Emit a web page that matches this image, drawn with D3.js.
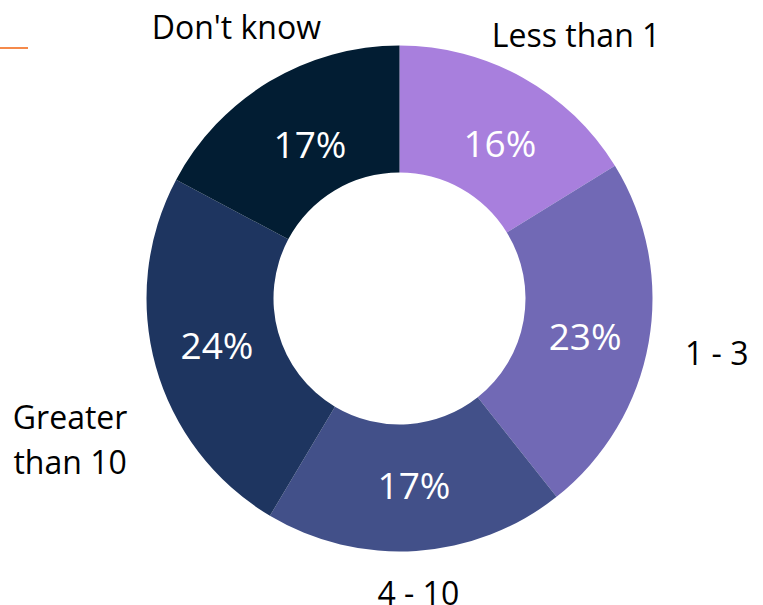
<!DOCTYPE html>
<html>
<head>
<meta charset="utf-8">
<script src="https://cdn.jsdelivr.net/npm/d3@7"></script>
<style>
  html, body { margin: 0; padding: 0; background: #fff; }
  svg { display: block; font-family: "Open Sans", sans-serif; }
</style>
</head>
<body>
<svg id="chart"></svg>
<script>
/******** Data ********/
var categories = ["Less than 1", "1 - 3", "4 - 10", "Greater than 10", "Don't know"];
// slice sizes
var values = [16.2, 23.1, 19.2, 24.2, 17.2];
// percentages printed on the slices
var pctLabels = ["16%", "23%", "17%", "24%", "17%"];
var colors = ["#a87fdd", "#7169b5", "#425089", "#1e3560", "#021d33"];

/******** Layout ********/
var width = 763, height = 605;
var cx = 399.5, cy = 298.5;
var outerR = 253, innerR = 126;
var labelR = 315;

// small nudges so labels sit where the original put them
var innerShift = {"Less than 1": [8, 11], "1 - 3": [-1, 5], "4 - 10": [2, -2], "Greater than 10": [0, -4], "Don't know": [8, 9]};
var outerShift = {"Less than 1": [23, 12], "1 - 3": [7, 0], "4 - 10": [-2, -19], "Greater than 10": [-26, 57], "Don't know": [-1, -1]};
var outerText = {"Greater than 10": ["Greater", "than 10"]};

var svg = d3.select("#chart")
  .attr("width", width)
  .attr("height", height);

// orange accent line top left
svg.append("line")
  .attr("x1", 0).attr("x2", 28)
  .attr("y1", 48).attr("y2", 48)
  .attr("stroke", "#f58a4b")
  .attr("stroke-width", 2);

var data = categories.map((c, i) => ({ cat: c, value: values[i], pct: pctLabels[i], color: colors[i] }));

var pie = d3.pie().sort(null).value(d => d.value);
var arc = d3.arc().innerRadius(innerR).outerRadius(outerR);
var labelArc = d3.arc().innerRadius(labelR).outerRadius(labelR);

var g = svg.append("g").attr("transform", "translate(" + cx + "," + cy + ")");
var arcs = pie(data);

g.selectAll("path")
  .data(arcs)
  .enter().append("path")
  .attr("d", arc)
  .attr("fill", d => d.data.color);

// percentages inside
var pctSize = 37;
g.selectAll("text.pct")
  .data(arcs)
  .enter().append("text")
  .attr("class", "pct")
  .attr("x", d => arc.centroid(d)[0] + innerShift[d.data.cat][0])
  .attr("y", d => arc.centroid(d)[1] + innerShift[d.data.cat][1] + 0.357 * pctSize)
  .attr("text-anchor", "middle")
  .attr("fill", "#fff")
  .style("font-size", pctSize + "px")
  .text(d => d.data.pct);

// category labels outside
var catSize = 32, lineH = 45;
var cats = g.selectAll("text.cat")
  .data(arcs)
  .enter().append("text")
  .attr("class", "cat")
  .attr("text-anchor", "middle")
  .attr("fill", "#000")
  .style("font-size", catSize + "px");

cats.each(function (d) {
  var p = labelArc.centroid(d);
  var s = outerShift[d.data.cat];
  var lines = outerText[d.data.cat] || [d.data.cat];
  var x = p[0] + s[0], y = p[1] + s[1];
  var n = lines.length;
  d3.select(this).selectAll("tspan")
    .data(lines)
    .enter().append("tspan")
    .attr("x", x)
    .attr("y", (t, i) => y + 0.357 * catSize + (i - (n - 1) / 2) * lineH)
    .text(t => t);
});
</script>
</body>
</html>
